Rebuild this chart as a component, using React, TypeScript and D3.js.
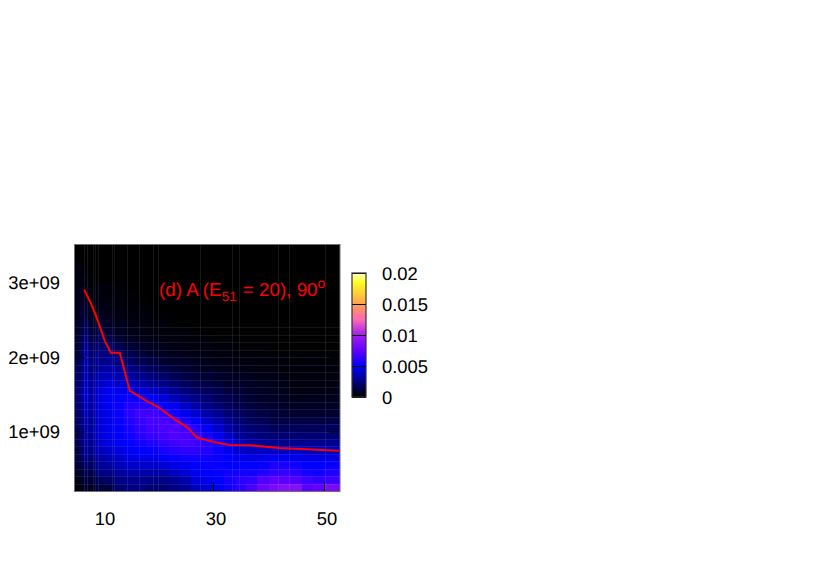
import React, { useEffect, useRef } from 'react';
import * as d3 from 'd3';

// column edges along x, one more than the longest row
const xEdges = [5.1, 6, 6.8, 7.6, 8.3, 9, 9.8, 10.8, 12.2, 14, 16, 18, 20, 22, 24, 26, 28, 30, 32, 34, 36, 38, 40, 42, 44, 46, 48, 50, 52, 52.7];
const yStart = 0.2e9;
const yStep = 0.1e9;

// cell values in units of 1e-4, first row is the bottom one, missing cells are 0
const cells = [
  [3, 5, 10, 6, 8, 15, 15, 12, 22, 25, 25, 22, 22, 26, 30, 38, 42, 48, 55, 60, 68, 78, 84, 88, 88, 72, 75, 84, 82],
  [5, 8, 13, 10, 13, 18, 20, 20, 25, 28, 28, 26, 26, 30, 34, 42, 46, 50, 55, 60, 62, 70, 74, 72, 70, 65, 62, 65, 65],
  [8, 11, 17, 14, 17, 25, 25, 26, 30, 33, 33, 33, 33, 38, 42, 47, 50, 52, 54, 55, 55, 58, 62, 63, 60, 55, 54, 58, 58],
  [12, 14, 22, 18, 22, 30, 30, 32, 36, 40, 40, 40, 42, 45, 47, 50, 52, 52, 50, 50, 50, 52, 56, 56, 54, 50, 50, 52, 52],
  [14, 18, 28, 22, 26, 32, 34, 36, 40, 45, 46, 46, 48, 52, 54, 55, 54, 52, 50, 46, 44, 46, 46, 46, 46, 44, 44, 44, 44],
  [14, 20, 30, 26, 30, 36, 38, 40, 44, 48, 50, 52, 56, 60, 62, 62, 58, 53, 46, 40, 38, 38, 38, 38, 38, 36, 36, 36, 36],
  [16, 22, 32, 28, 32, 38, 42, 44, 48, 50, 55, 58, 62, 66, 68, 66, 60, 54, 44, 36, 32, 30, 28, 28, 28, 28, 28, 28, 28],
  [18, 24, 32, 28, 34, 40, 44, 46, 48, 54, 60, 64, 67, 70, 68, 63, 55, 46, 38, 30, 26, 24, 22, 22, 22, 22, 22, 22, 22],
  [18, 26, 34, 30, 34, 42, 44, 46, 50, 56, 62, 66, 68, 70, 66, 58, 48, 40, 32, 26, 22, 20, 18, 18, 18, 18, 18, 18, 18],
  [20, 26, 34, 28, 34, 42, 44, 46, 52, 58, 64, 68, 68, 66, 56, 48, 40, 34, 28, 22, 18, 16, 14, 13, 13, 13, 13, 13, 13],
  [20, 26, 36, 30, 34, 42, 44, 46, 52, 60, 66, 66, 62, 54, 46, 40, 32, 28, 22, 18, 15, 13, 11, 10, 9, 9, 9, 9, 9],
  [22, 28, 38, 32, 36, 42, 46, 48, 52, 58, 60, 58, 52, 46, 38, 32, 26, 22, 18, 15, 12, 10, 9, 8, 7, 7, 7, 7, 7],
  [24, 30, 40, 32, 36, 42, 46, 48, 50, 52, 52, 48, 42, 36, 30, 26, 22, 18, 15, 12, 10, 8, 7, 6, 5, 5, 5, 5, 6],
  [24, 30, 40, 30, 36, 40, 44, 46, 46, 46, 42, 38, 34, 28, 24, 20, 18, 15, 12, 10, 8, 7, 6, 5, 4, 4, 4, 4, 5],
  [22, 28, 38, 28, 34, 38, 40, 42, 40, 38, 34, 30, 26, 22, 18, 15, 13, 11, 9, 8, 7, 6, 5, 4, 3, 3, 3, 3, 4],
  [20, 26, 36, 26, 30, 34, 36, 36, 34, 32, 28, 24, 20, 16, 14, 12, 10, 8, 7, 6, 5, 4, 4, 3, 3, 3, 3, 3, 3],
  [18, 24, 34, 24, 26, 30, 32, 32, 30, 26, 22, 18, 14, 12, 10, 8, 7, 6, 5, 4, 4, 3, 3, 2, 2, 2, 2, 2, 2],
  [16, 22, 34, 24, 24, 28, 28, 28, 24, 20, 16, 13, 10, 8, 7, 6, 5, 4, 4, 3, 3, 2, 2, 2, 2, 2, 2, 2, 2],
  [14, 20, 32, 22, 22, 26, 24, 24, 20, 16, 12, 9, 7, 6, 5, 4, 4, 3, 3, 2, 2, 2, 1, 1, 1, 1, 1, 1, 1],
  [12, 18, 28, 18, 18, 22, 20, 20, 15, 11, 8, 6, 5, 4, 3, 3, 3, 2, 2, 1, 1, 1],
  [10, 16, 24, 14, 14, 18, 16, 14, 10, 7, 5, 4, 3, 3, 2, 2, 2, 1, 1],
  [9, 14, 20, 10, 10, 14, 12, 10, 7, 5, 4, 3, 2, 2, 2, 1],
  [8, 12, 16, 7, 7, 10, 9, 7, 5, 4, 3, 2, 2, 1],
  [7, 10, 12, 5, 5, 7, 6, 5, 4, 3, 2, 2, 1],
  [6, 8, 9, 4, 4, 5, 4, 4, 3, 2, 2, 1],
  [5, 6, 6, 3, 3, 4, 3, 3, 2, 2, 1],
  [5, 5, 4, 2, 2, 3, 2, 2, 2, 1],
  [4, 4, 3, 2, 2, 2, 2, 2, 1],
  [4, 3, 2, 1],
  [4, 2, 1],
  [3, 1],
  [],
  [],
];

// faint seams left between the image strips
const xSeams = [6.76, 7.35, 8.32, 8.79, 9.33, 11.75, 12.16, 14.56, 16.72, 19.24, 20.14, 27.7, 33.37, 34.74, 41.77, 43.75, 50.24];
const ySeams = [0.3, 0.4, 0.5, 0.6, 0.7, 0.8, 0.9, 1, 1.1, 1.2, 1.3, 1.4, 1.5, 1.6, 1.7, 1.8, 1.9, 2, 2.1, 2.2, 2.3, 2.4];

const lineX = [6.8, 8.2, 9.1, 10.5, 11.6, 13.2, 15, 18.1, 20.1, 23.2, 25.3, 27.1, 30.2, 33, 36.7, 42, 52.7];
const lineY = [2.91, 2.69, 2.52, 2.22, 2.06, 2.06, 1.55, 1.41, 1.33, 1.16, 1.06, 0.92, 0.86, 0.82, 0.815, 0.78, 0.74];

const xTicks = [10, 30, 50];
const yTicks = [1e9, 2e9, 3e9];
const yTickLabels = ['1e+09', '2e+09', '3e+09'];
const barTicks = [0, 0.005, 0.01, 0.015, 0.02];
const barTickLabels = ['0', '0.005', '0.01', '0.015', '0.02'];

const paletteStops = [0, 0.005, 0.0075, 0.01, 0.0125, 0.015, 0.0185, 0.02];
const paletteColors = ['#000000', '#0000ff', '#6400ff', '#a01ef0', '#ff69b4', '#ffa050', '#ffff20', '#ffffd0'];

const FONT = '"Liberation Sans", Arial, sans-serif';

const App = () => {
  const ref = useRef<SVGSVGElement>(null);

  useEffect(() => {
    const svg = d3.select(ref.current);
    svg.selectAll('*').remove();

    const left = 75, right = 339, top = 245, bottom = 491;
    const x = d3.scaleLinear().domain([5.13, 52.7]).range([left, right]);
    const y = d3.scaleLinear().domain([0.2e9, 3.51e9]).range([bottom, top]);
    const color = d3.scaleLinear<string>().domain(paletteStops).range(paletteColors);

    // heatmap
    const map = svg.append('g').attr('shape-rendering', 'crispEdges');
    map.append('rect')
      .attr('x', left).attr('y', top)
      .attr('width', right - left + 1).attr('height', bottom - top)
      .attr('fill', '#000');
    cells.forEach((row, i) => {
      row.forEach((v, j) => {
        const x0 = Math.round(x(xEdges[j]));
        const x1 = Math.round(Math.min(x(xEdges[j + 1]), right)) + (j === row.length - 1 ? 1 : 0);
        const y0 = Math.round(y(yStart + (i + 1) * yStep));
        const y1 = Math.round(y(yStart + i * yStep));
        map.append('rect')
          .attr('x', x0).attr('y', y0)
          .attr('width', x1 - x0).attr('height', y1 - y0)
          .attr('fill', color(v * 1e-4));
      });
    });

    xSeams.forEach(s => {
      map.append('line')
        .attr('x1', Math.round(x(s)) + 0.5).attr('x2', Math.round(x(s)) + 0.5)
        .attr('y1', top).attr('y2', bottom)
        .attr('stroke', '#fff').attr('stroke-opacity', 0.09);
    });
    ySeams.forEach(s => {
      map.append('line')
        .attr('x1', left).attr('x2', right + 1)
        .attr('y1', Math.round(y(s * 1e9)) + 0.5).attr('y2', Math.round(y(s * 1e9)) + 0.5)
        .attr('stroke', '#fff').attr('stroke-opacity', 0.08);
    });

    // curve
    const line = d3.line<number>()
      .x(d => x(d))
      .y((_, i) => y(lineY[i] * 1e9));
    svg.append('path')
      .attr('d', line(lineX))
      .attr('fill', 'none')
      .attr('stroke', '#ff0000')
      .attr('stroke-width', 2);

    // axes, ticks point inwards
    const styleAxis = (g: any) => {
      g.select('.domain').remove();
      g.selectAll('line').attr('stroke', '#000').attr('stroke-width', 1);
      g.selectAll('text')
        .attr('font-family', FONT)
        .attr('font-size', 18.4)
        .attr('text-rendering', 'geometricPrecision')
        .attr('fill', '#000');
    };

    const xAxis = svg.append('g')
      .attr('transform', `translate(0,${bottom})`)
      .call(d3.axisBottom(x).tickValues(xTicks).tickSize(-9).tickPadding(21).tickFormat(d3.format('d')) as any)
      .call(styleAxis);
    // labels sit a little right of their ticks in the original
    xAxis.selectAll('text').attr('dx', 2.5);

    svg.append('g')
      .attr('transform', `translate(${left},0)`)
      .call(d3.axisLeft(y).tickValues(yTicks).tickSize(-10).tickPadding(15)
        .tickFormat((_, i) => yTickLabels[i]) as any)
      .call(styleAxis);
    svg.append('g')
      .attr('transform', `translate(${right},0)`)
      .call(d3.axisRight(y).tickValues(yTicks).tickSize(-10).tickFormat(() => '') as any)
      .call(styleAxis);

    svg.append('rect')
      .attr('x', left - 0.5).attr('y', top - 0.5)
      .attr('width', right - left + 1.5).attr('height', bottom - top + 1)
      .attr('fill', 'none')
      .attr('stroke', '#707070')
      .attr('stroke-width', 1);

    // colour bar
    const barLeft = 352, barRight = 366, barTop = 273, barBottom = 397;
    const barScale = d3.scaleLinear().domain([0, 0.02]).range([barBottom, barTop]);
    const barGroup = svg.append('g').attr('shape-rendering', 'crispEdges');
    d3.range(barTop, barBottom).forEach(py => {
      barGroup.append('rect')
        .attr('x', barLeft).attr('y', py)
        .attr('width', barRight - barLeft).attr('height', 1)
        .attr('fill', color(barScale.invert(py + 0.5)));
    });
    const barAxis = svg.append('g')
      .attr('transform', `translate(${barRight},0)`)
      .call(d3.axisRight(barScale).tickValues(barTicks).tickSize(-(barRight - barLeft)).tickPadding(16)
        .tickFormat((_, i) => barTickLabels[i]) as any)
      .call(styleAxis);
    barAxis.selectAll('text').attr('y', 1);
    svg.append('rect')
      .attr('x', barLeft).attr('y', barTop)
      .attr('width', barRight - barLeft).attr('height', barBottom - barTop)
      .attr('fill', 'none')
      .attr('stroke', '#333')
      .attr('stroke-width', 1.2);

    // panel label
    const label = svg.append('text')
      .attr('x', 159).attr('y', 296)
      .attr('font-family', FONT)
      .attr('font-size', 18.8)
      .attr('text-rendering', 'geometricPrecision')
      .attr('fill', '#ff0000');
    label.append('tspan').text('(d) A (E');
    label.append('tspan').attr('dy', 5).attr('font-size', 13.5).text('51');
    label.append('tspan').attr('dy', -5).attr('dx', 1).text(' = 20), 90');
    label.append('tspan').attr('dy', -8).attr('font-size', 14).text('o');
  }, []);

  return (
    <svg
      ref={ref}
      width={830}
      height={581}
      style={{ position: 'absolute', left: 0, top: 0, background: '#fff' }}
    />
  );
};

export default App;
